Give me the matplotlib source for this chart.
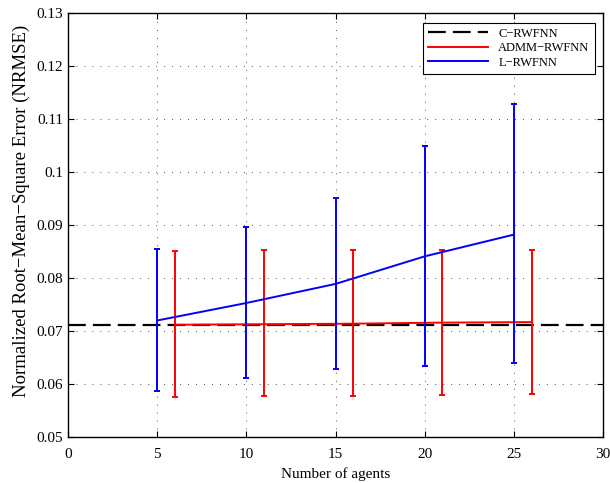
import matplotlib
matplotlib.use("Agg")
import matplotlib.pyplot as plt
from matplotlib.lines import Line2D

plt.rcParams["font.family"] = ["Liberation Serif", "DejaVu Serif"]

# centralized baseline
central_nrmse = 0.0712

# ADMM-RWFNN (offset by one agent for readability)
admm_agents = [6, 11, 16, 21, 26]
admm_mean = [0.0712, 0.0713, 0.0714, 0.0716, 0.0717]
admm_low = [0.0575, 0.0577, 0.0577, 0.0579, 0.0581]
admm_high = [0.0852, 0.0853, 0.0853, 0.0853, 0.0853]

# L-RWFNN
local_agents = [5, 10, 15, 20, 25]
local_mean = [0.0720, 0.0753, 0.0789, 0.0841, 0.0882]
local_low = [0.0587, 0.0612, 0.0628, 0.0635, 0.0640]
local_high = [0.0855, 0.0896, 0.0952, 0.1050, 0.1128]

xticks = [0, 5, 10, 15, 20, 25, 30]
yticks = [0.05, 0.06, 0.07, 0.08, 0.09, 0.10, 0.11, 0.12, 0.13]
ytick_labels = ["0.05", "0.06", "0.07", "0.08", "0.09", "0.1", "0.11", "0.12", "0.13"]

dash_style = (0, (8, 3.2))


def asym_err(mean, low, high):
    return [[m - l for m, l in zip(mean, low)], [h - m for m, h in zip(mean, high)]]


fig = plt.figure(figsize=(6.1, 4.83), dpi=100)
ax = fig.add_axes([0.1115, 0.095, 0.877, 0.878])

ax.axhline(central_nrmse, color="black", lw=1.6, linestyle=dash_style, zorder=2)

ax.errorbar(admm_agents, admm_mean, yerr=asym_err(admm_mean, admm_low, admm_high),
            color="#ff0000", lw=1.4, elinewidth=1.4, capsize=2.5, capthick=1.4, zorder=3)
ax.errorbar(local_agents, local_mean, yerr=asym_err(local_mean, local_low, local_high),
            color="#0000ff", lw=1.4, elinewidth=1.4, capsize=2.5, capthick=1.4, zorder=4)

ax.set_xlim(0, 30)
ax.set_ylim(0.05, 0.13)
ax.set_xticks(xticks)
ax.set_yticks(yticks)
ax.set_yticklabels(ytick_labels)
ax.tick_params(direction="in", top=True, right=True, labelsize=11, length=4, width=0.8)
ax.tick_params(axis="x", pad=7.5)
ax.grid(True, color="#555555", linestyle=(0, (1, 7.2)), lw=0.7)
for s in ax.spines.values():
    s.set_linewidth(1.0)

ax.set_xlabel("Number of agents", fontsize=11, labelpad=4.5)
ax.set_ylabel("Normalized Root\u2212Mean\u2212Square Error (NRMSE)", fontsize=13.5)
ax.yaxis.set_label_coords(-0.071, 0.533)

handles = [
    Line2D([], [], color="black", lw=1.6, linestyle=dash_style),
    Line2D([], [], color="#ff0000", lw=1.4),
    Line2D([], [], color="#0000ff", lw=1.4),
]
labels = ["C\u2212RWFNN", "ADMM\u2212RWFNN", "L\u2212RWFNN"]
leg = ax.legend(handles, labels, loc="upper right", fontsize=9, fancybox=False,
                framealpha=1, edgecolor="black", handlelength=4.8, borderpad=0.4,
                labelspacing=0.2, bbox_to_anchor=(0.996, 0.992))
leg.get_frame().set_linewidth(0.8)

fig.savefig("out.png", dpi=100)
